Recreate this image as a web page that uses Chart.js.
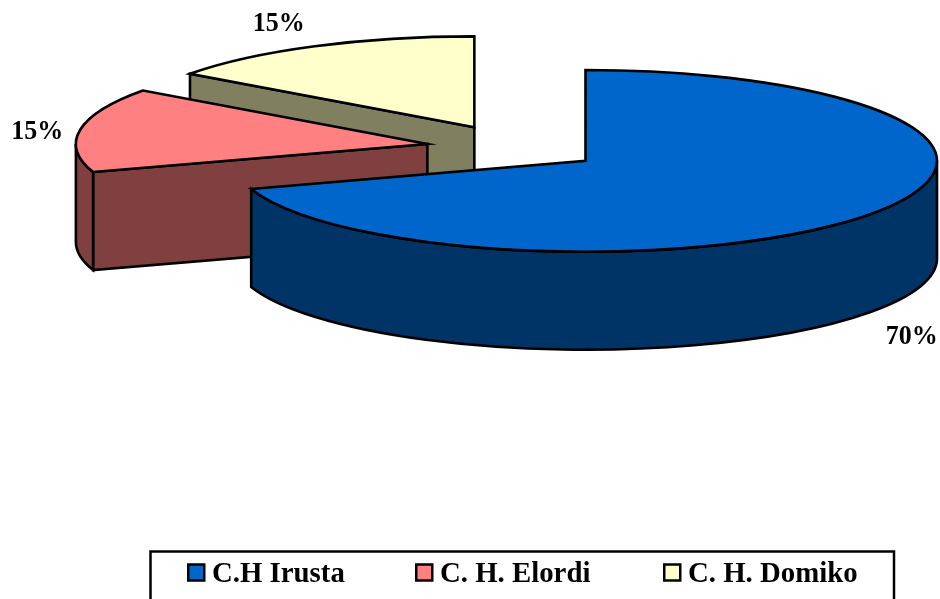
<!DOCTYPE html>
<html>
<head>
<meta charset="utf-8">
<title>Pie</title>
<script src="https://cdn.jsdelivr.net/npm/chart.js@4/dist/chart.umd.js"></script>
<style>
    html, body { margin: 0; padding: 0; background: #fff; }
    canvas { display: block; }
</style>
</head>
<body>
<canvas id="graficoCanvas" width="940" height="599"></canvas>
<script>
const categories = ["C.H Irusta", "C. H. Elordi", "C. H. Domiko"];
const values = [70, 15, 15];
const valueLabels = ["70%", "15%", "15%"];
const topColors = ["#0066cc", "#ff8080", "#ffffcc"];
const wallColors = ["#003366", "#804040", "#808060"];

// fake 3D view of the pie
const centerX = 514.3;
const centerY = 147.5;
const radius = 351.5;
const tilt = 0.2585;
const depth = 98;
const explode = 88;
const lineWidth = 2.6;

// where the % labels go, relative to the rim of each slice
const labelShift = [[42, 122], [-43, 2], [-36, -23]];
const legendX = [187, 415, 663];

function sliceCenter(arc) {
    const mid = (arc.startAngle + arc.endAngle) / 2;
    return {
        x: centerX + Math.cos(mid) * explode,
        y: centerY + Math.sin(mid) * explode * tilt
    };
}

function outline(ctx, fill) {
    if (fill) {
        ctx.fillStyle = fill;
        ctx.fill();
    }
    ctx.stroke();
}

function drawWalls(ctx, arc, c, color) {
    const ry = radius * tilt;
    const edges = [];
    if (Math.cos(arc.startAngle) < -1e-6) edges.push(arc.startAngle);
    if (Math.cos(arc.endAngle) > 1e-6) edges.push(arc.endAngle);
    edges.forEach(a => {
        const px = c.x + Math.cos(a) * radius;
        const py = c.y + Math.sin(a) * ry;
        ctx.beginPath();
        ctx.moveTo(c.x, c.y);
        ctx.lineTo(px, py);
        ctx.lineTo(px, py + depth);
        ctx.lineTo(c.x, c.y + depth);
        ctx.closePath();
        outline(ctx, color);
    });

    const a0 = Math.max(arc.startAngle, 0);
    const a1 = Math.min(arc.endAngle, Math.PI);
    if (a1 > a0) {
        ctx.beginPath();
        ctx.ellipse(c.x, c.y, radius, ry, 0, a0, a1);
        ctx.ellipse(c.x, c.y + depth, radius, ry, 0, a1, a0, true);
        ctx.closePath();
        outline(ctx, color);
    }
}

const pie3d = {
    id: "pie3d",
    beforeDatasetsDraw(chart) {
        const ctx = chart.ctx;
        const arcs = chart.getDatasetMeta(0).data;
        const order = arcs.map((arc, i) => i).sort((a, b) => sliceCenter(arcs[a]).y - sliceCenter(arcs[b]).y);

        ctx.save();
        ctx.strokeStyle = "#000";
        ctx.lineWidth = lineWidth;
        order.forEach(i => {
            const arc = arcs[i];
            const c = sliceCenter(arc);
            drawWalls(ctx, arc, c, wallColors[i]);

            // the library draws the top face, squashed
            ctx.save();
            ctx.translate(c.x, c.y);
            ctx.scale(1, tilt);
            ctx.translate(-arc.x, -arc.y);
            arc.draw(ctx);
            ctx.restore();

            ctx.beginPath();
            ctx.moveTo(c.x, c.y);
            ctx.ellipse(c.x, c.y, radius, radius * tilt, 0, arc.startAngle, arc.endAngle);
            ctx.closePath();
            ctx.stroke();
        });
        ctx.restore();
        return false;
    },
    afterDraw(chart) {
        const ctx = chart.ctx;
        const arcs = chart.getDatasetMeta(0).data;
        ctx.save();
        ctx.fillStyle = "#000";
        ctx.textBaseline = "middle";
        ctx.textAlign = "center";
        ctx.font = "bold 28px 'Liberation Serif'";
        arcs.forEach((arc, i) => {
            const c = sliceCenter(arc);
            const mid = (arc.startAngle + arc.endAngle) / 2;
            ctx.fillText(valueLabels[i],
                c.x + Math.cos(mid) * radius + labelShift[i][0],
                c.y + Math.sin(mid) * radius * tilt + labelShift[i][1],
                52);
        });

        // legend box runs off the bottom of the page
        ctx.strokeStyle = "#000";
        ctx.lineWidth = 2.5;
        ctx.strokeRect(150.5, 551.5, 743.5, 60);
        ctx.textAlign = "left";
        ctx.textBaseline = "alphabetic";
        ctx.font = "bold 30px 'Liberation Serif'";
        categories.forEach((name, i) => {
            ctx.fillStyle = topColors[i];
            ctx.fillRect(legendX[i] + 1.25, 564.5, 16, 16);
            ctx.strokeRect(legendX[i] + 1.25, 564.5, 16, 16);
            ctx.fillStyle = "#000";
            ctx.fillText(name, legendX[i] + 25, 582, ctx.measureText(name).width * 0.96);
        });
        ctx.restore();
    }
};

new Chart(document.getElementById("graficoCanvas"), {
    type: "pie",
    data: {
        labels: categories,
        datasets: [{
            data: values,
            backgroundColor: topColors,
            borderWidth: 0
        }]
    },
    options: {
        responsive: false,
        animation: false,
        radius: radius,
        layout: { padding: 0 },
        plugins: {
            legend: { display: false },
            tooltip: { enabled: false }
        }
    },
    plugins: [pie3d]
});
</script>
</body>
</html>
